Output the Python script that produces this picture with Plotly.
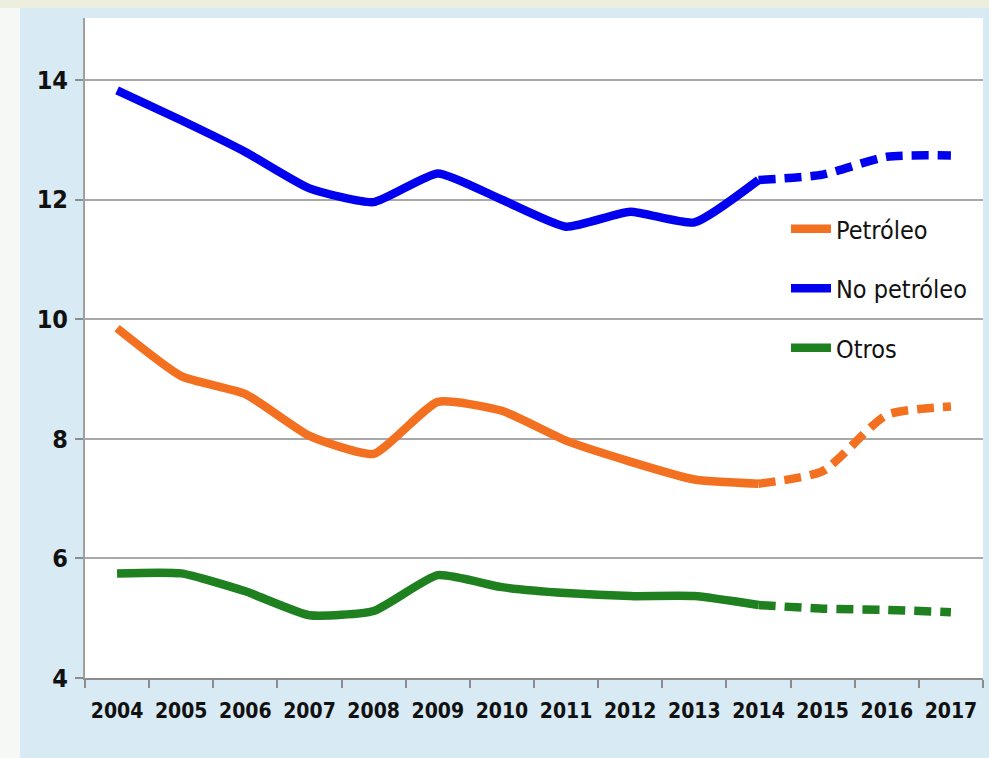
import plotly.graph_objects as go

years = ["2004", "2005", "2006", "2007", "2008", "2009", "2010",
         "2011", "2012", "2013", "2014", "2015", "2016", "2017"]
petroleo = [9.85, 9.05, 8.75, 8.05, 7.75, 8.62, 8.47, 7.97, 7.62, 7.32, 7.25, 7.46, 8.40, 8.54]
no_petroleo = [13.83, 13.33, 12.80, 12.19, 11.96, 12.44, 12.00, 11.55, 11.80, 11.62, 12.33, 12.42, 12.72, 12.74]
otros = [5.75, 5.75, 5.45, 5.05, 5.12, 5.72, 5.52, 5.42, 5.37, 5.37, 5.22, 5.16, 5.14, 5.10]

series_names = ["Petróleo", "No petróleo", "Otros"]
series_values = [petroleo, no_petroleo, otros]
colors = ["#F37021", "#0000EE", "#1E801E"]
split = years.index("2014")

FONT = "DejaVu Sans Condensed, Liberation Sans Narrow, Arial Narrow, sans-serif"

fig = go.Figure()
for i, (name, vals, col) in enumerate(zip(series_names, series_values, colors)):
    fig.add_trace(go.Scatter(
        x=years[:split + 1], y=vals[:split + 1], mode="lines", name=name,
        line=dict(color=col, width=8.5, shape="spline", smoothing=0.5),
        legendgroup=f"g{i}", showlegend=True, hoverinfo="skip"))
    fig.add_trace(go.Scatter(
        x=years[split:], y=vals[split:], mode="lines", name=name,
        line=dict(color=col, width=8.5, dash="17px,9px", shape="spline", smoothing=0.6),
        legendgroup=f"g{i}", showlegend=False, hoverinfo="skip"))

L, R, T, B = 85, 6, 18, 80
W, H = 989, 758
pw, ph = W - L - R, H - T - B

def px_x(x):
    return (x - L) / pw

def px_y(y):
    return (H - B - y) / ph

shapes = [
    dict(type="rect", xref="paper", yref="paper", layer="below",
         x0=px_x(0), x1=px_x(20), y0=px_y(758), y1=px_y(0),
         fillcolor="#F6F8F6", line=dict(width=0)),
    dict(type="rect", xref="paper", yref="paper", layer="below",
         x0=px_x(0), x1=px_x(989), y0=px_y(8), y1=px_y(0),
         fillcolor="#ECEFDD", line=dict(width=0)),
]

fig.update_layout(
    width=W, height=H,
    margin=dict(l=L, r=R, t=T, b=B, pad=0),
    paper_bgcolor="#D8EAF3",
    plot_bgcolor="#FFFFFF",
    shapes=shapes,
    showlegend=True,
    legend=dict(
        x=px_x(786), y=px_y(206), xanchor="left", yanchor="top",
        bgcolor="rgba(255,255,255,0)", borderwidth=0,
        font=dict(family=FONT, size=25, color="#111111"),
        tracegroupgap=24, itemwidth=40,
    ),
    xaxis=dict(
        type="category", range=[-0.5, 13.5],
        tickson="boundaries", ticks="outside", ticklen=8, tickwidth=1.5,
        tickcolor="#8C8C8C", showline=True, linecolor="#8C8C8C", linewidth=2,
        showgrid=False, zeroline=False, tickangle=0,
        tickfont=dict(family=FONT, size=21, color="#111111", weight="bold"),
        ticklabelstandoff=13,
    ),
    yaxis=dict(
        range=[4, 15.04], tickvals=[4, 6, 8, 10, 12, 14],
        ticks="outside", ticklen=8, tickwidth=1.5, tickcolor="#8C8C8C",
        showline=True, linecolor="#A0A0A0", linewidth=2,
        showgrid=True, gridcolor="#A8A8A8", gridwidth=2, zeroline=False,
        tickfont=dict(family=FONT, size=25, color="#111111", weight="bold"),
        ticklabelstandoff=2,
    ),
)

fig.write_html("out.html",
               config={"displayModeBar": False},
               post_script="document.body.style.margin='0';document.body.style.overflow='hidden';")
